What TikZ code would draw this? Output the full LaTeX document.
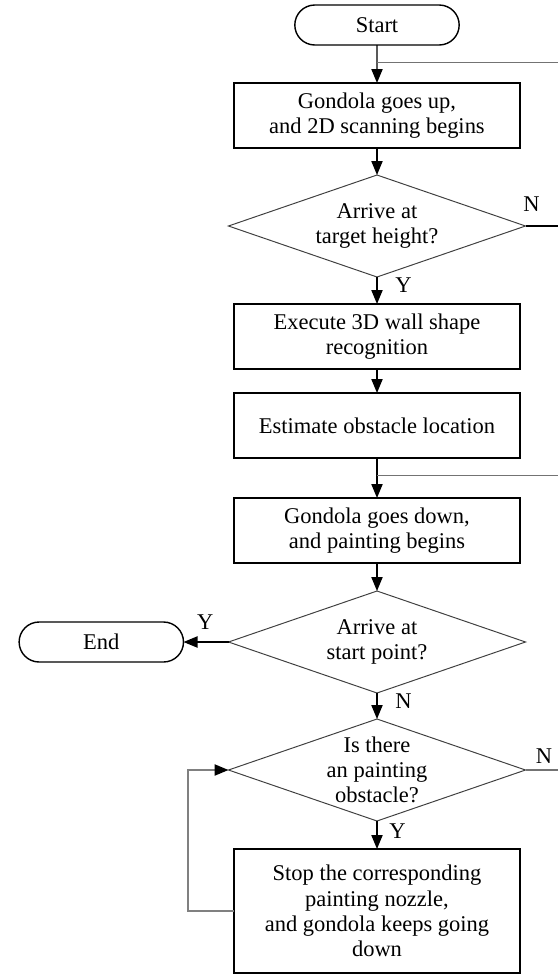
\documentclass[tikz,border=0pt]{standalone}
\usepackage{fontspec}
\setmainfont{Liberation Serif}
\usetikzlibrary{positioning,shapes.geometric,shapes.misc,arrows.meta,calc}

\begin{document}
\begin{tikzpicture}[
  node distance=0.65cm,
  every node/.style={font=\fontsize{16}{18}\selectfont},
  terminal/.style={rounded rectangle, draw, line width=1pt, minimum width=4.25cm,
    minimum height=1cm, inner sep=2pt, outer sep=0pt},
  process/.style={rectangle, draw, line width=1.4pt, minimum width=7.15cm,
    minimum height=1.625cm, inner sep=4pt, outer sep=0pt, align=center},
  decision/.style={diamond, draw=black!75, line width=0.7pt, minimum width=7.425cm,
    minimum height=2.55cm, inner sep=0pt, outer sep=0pt},
  dtext/.style={align=center, inner sep=0pt},
  yn/.style={inner sep=0pt},
  flow/.style={line width=1pt, -{Triangle[length=0.35cm, width=0.28cm]}},
  side/.style={draw=black!55, line width=0.8pt}
]
  \useasboundingbox (0,0) rectangle (13.95,-24.35);
  \coordinate (rim) at (13.95,0);

  \node[terminal] (start) at (9.425,-0.625) {Start};
  \node[process, below=0.95cm of start] (up) {Gondola goes up,\\and 2D scanning begins};
  \node[decision, below=0.675cm of up] (height) {};
  \node[dtext] (heighttxt) at (height) {Arrive at\\target height?};
  \node[process, below=0.675cm of height] (shape) {Execute 3D wall shape\\recognition};
  \node[process, below=0.6cm of shape] (locate) {Estimate obstacle location};
  \node[process, below=1.0cm of locate] (down) {Gondola goes down,\\and painting begins};
  \node[decision, below=0.7cm of down] (home) {};
  \node[dtext] (hometxt) at (home) {Arrive at\\start point?};
  \node[decision, below=0.65cm of home] (obst) {};
  \node[dtext] (obsttxt) at (obst) {Is there\\an painting\\obstacle?};
  \node[process, below=0.7cm of obst, minimum height=3.1cm] (stop)
        {Stop the corresponding\\painting nozzle,\\and gondola keeps going\\down};
  \node[terminal, left=1.125cm of home] (end) {End};

  % yes / no marks
  \node[yn, above=0.35cm of height.east, xshift=0.15cm] (heightno) {N};
  \node[yn, below right=0.02cm and 0.45cm of height.south] (heightyes) {Y};
  \node[yn, above left=0.3cm and 0.37cm of home.west] (homeyes) {Y};
  \node[yn, below right=0.02cm and 0.45cm of home.south] (homeno) {N};
  \node[yn, above right=0.15cm and 0.25cm of obst.east] (obstno) {N};
  \node[yn, below right=0.05cm and 0.3cm of obst.south] (obstyes) {Y};

  \coordinate (upjoin) at ($(start.south)!0.47!(up.north)$);
  \coordinate (downjoin) at ($(locate.south)!0.43!(down.north)$);

  \draw[flow] (start) -- (up);
  \draw[flow] (up) -- (height);
  \draw[flow] (height) -- (shape);
  \draw[flow] (shape) -- (locate);
  \draw[flow] (locate) -- (down);
  \draw[flow] (down) -- (home);
  \draw[flow] (home) -- (obst);
  \draw[flow] (obst) -- (stop);
  \draw[flow] (home.west) -- (end.east);
  \draw[side] (upjoin) -- (upjoin -| rim);
  \draw[side] (downjoin) -- (downjoin -| rim);
  \draw[line width=1pt] (height.east) -- (height.east -| rim);
  \draw[side] (obst.east) -- (obst.east -| rim);
  \draw[flow, draw=black!50, line width=1.2pt, -{Triangle[length=0.35cm, width=0.28cm, black]}]
        (stop.west) -- ++(-1.15,0) |- (obst.west);
\end{tikzpicture}
\end{document}
